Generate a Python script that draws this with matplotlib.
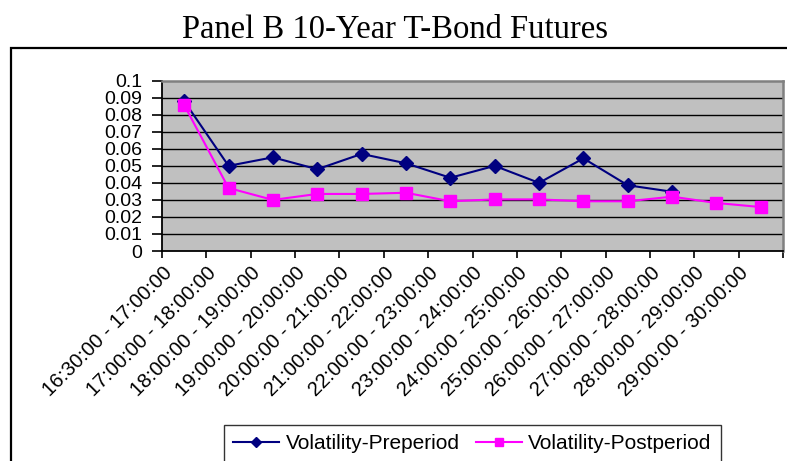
import numpy as np
import matplotlib
matplotlib.use("Agg")
import matplotlib.pyplot as plt
import matplotlib.transforms as mtransforms
from matplotlib.patches import Rectangle

# --- data: half-hour / hourly windows and volatility before and after
periods = ["16:30:00 - 17:00:00", "17:00:00 - 18:00:00", "18:00:00 - 19:00:00",
           "19:00:00 - 20:00:00", "20:00:00 - 21:00:00", "21:00:00 - 22:00:00",
           "22:00:00 - 23:00:00", "23:00:00 - 24:00:00", "24:00:00 - 25:00:00",
           "25:00:00 - 26:00:00", "26:00:00 - 27:00:00", "27:00:00 - 28:00:00",
           "28:00:00 - 29:00:00", "29:00:00 - 30:00:00"]
vol_pre  = [0.088, 0.050, 0.055, 0.048, 0.057, 0.0515, 0.043,
            0.050, 0.040, 0.0544, 0.0386, 0.0348]
vol_post = [0.0857, 0.037, 0.030, 0.0335, 0.0335, 0.0342, 0.0292,
            0.0303, 0.0303, 0.0292, 0.0292, 0.0319, 0.0282, 0.0258]
yticks   = [0, 0.01, 0.02, 0.03, 0.04, 0.05, 0.06, 0.07, 0.08, 0.09, 0.1]
yticklabels = ["0", "0.01", "0.02", "0.03", "0.04", "0.05", "0.06",
               "0.07", "0.08", "0.09", "0.1"]

plt.rcParams['font.family'] = ['Liberation Sans', 'DejaVu Sans']

W, H = 787, 461
fig = plt.figure(figsize=(W / 100, H / 100), dpi=100)
ax  = fig.add_axes([162 / W, 1 - 251 / H, (783 - 162) / W, (251 - 80.7) / H])

# outer chart border
fig.patches.append(Rectangle((11 / W, -0.05), 1.2, 1 - 48 / H + 0.05,
                             transform=fig.transFigure, fill=False,
                             edgecolor='black', linewidth=1.6, zorder=0))

fig.text(395 / W, 1 - 30 / H, "Panel B 10-Year T-Bond Futures",
         family=['Liberation Serif', 'DejaVu Serif'], fontsize=23.5,
         ha='center', va='center')

ax.set_facecolor('#C0C0C0')
for y in yticks[1:-1]:
    ax.axhline(y, color='black', linewidth=1.0, zorder=1)

x_pre  = np.arange(len(vol_pre))
x_post = np.arange(len(vol_post))
ax.plot(x_pre, vol_pre, color='#000080', marker='D', markersize=7,
        linewidth=1.5, label='Volatility-Preperiod', zorder=3)
ax.plot(x_post, vol_post, color='#FF00FF', marker='s', markersize=8,
        linewidth=1.5, label='Volatility-Postperiod', zorder=3)

ax.set_xlim(-0.5, len(periods) - 0.5)
ax.set_ylim(0, 0.1)

# tick marks on category boundaries, labels at category centres
ax.set_xticks(np.arange(len(periods) + 1) - 0.5)
ax.set_xticklabels([])
ax.set_xticks(np.arange(len(periods)), minor=True)
ax.set_xticklabels(periods, minor=True, rotation=45, ha='right', va='top',
                   rotation_mode='anchor', fontsize=14.5)
ax.tick_params(axis='x', which='major', direction='out', length=5,
               width=1.2, color='black')
ax.tick_params(axis='x', which='minor', length=0, pad=4)
offset = mtransforms.ScaledTranslation(-22 / 100, -7 / 100, fig.dpi_scale_trans)
for lab in ax.get_xticklabels(minor=True):
    lab.set_transform(lab.get_transform() + offset)

ax.set_yticks(yticks)
ax.set_yticklabels(yticklabels, fontsize=14)
ax.tick_params(axis='y', direction='out', length=7, width=1.2, pad=7,
               color='black')

ax.spines['left'].set_color('black')
ax.spines['bottom'].set_color('black')
ax.spines['left'].set_linewidth(1.3)
ax.spines['bottom'].set_linewidth(1.3)
ax.spines['top'].set_color('#808080')
ax.spines['right'].set_color('#808080')
ax.spines['top'].set_linewidth(1.8)
ax.spines['right'].set_linewidth(1.8)

leg = fig.legend(loc='lower center', bbox_to_anchor=(472.5 / W, -0.004),
                 ncol=2, fontsize=15, frameon=True, fancybox=False,
                 handlelength=2.2, markerscale=0.75, columnspacing=0.8,
                 handletextpad=0.3, borderpad=0.45, borderaxespad=0)
leg.get_frame().set_edgecolor('black')
leg.get_frame().set_linewidth(1.0)

fig.savefig('out.png', dpi=100)
